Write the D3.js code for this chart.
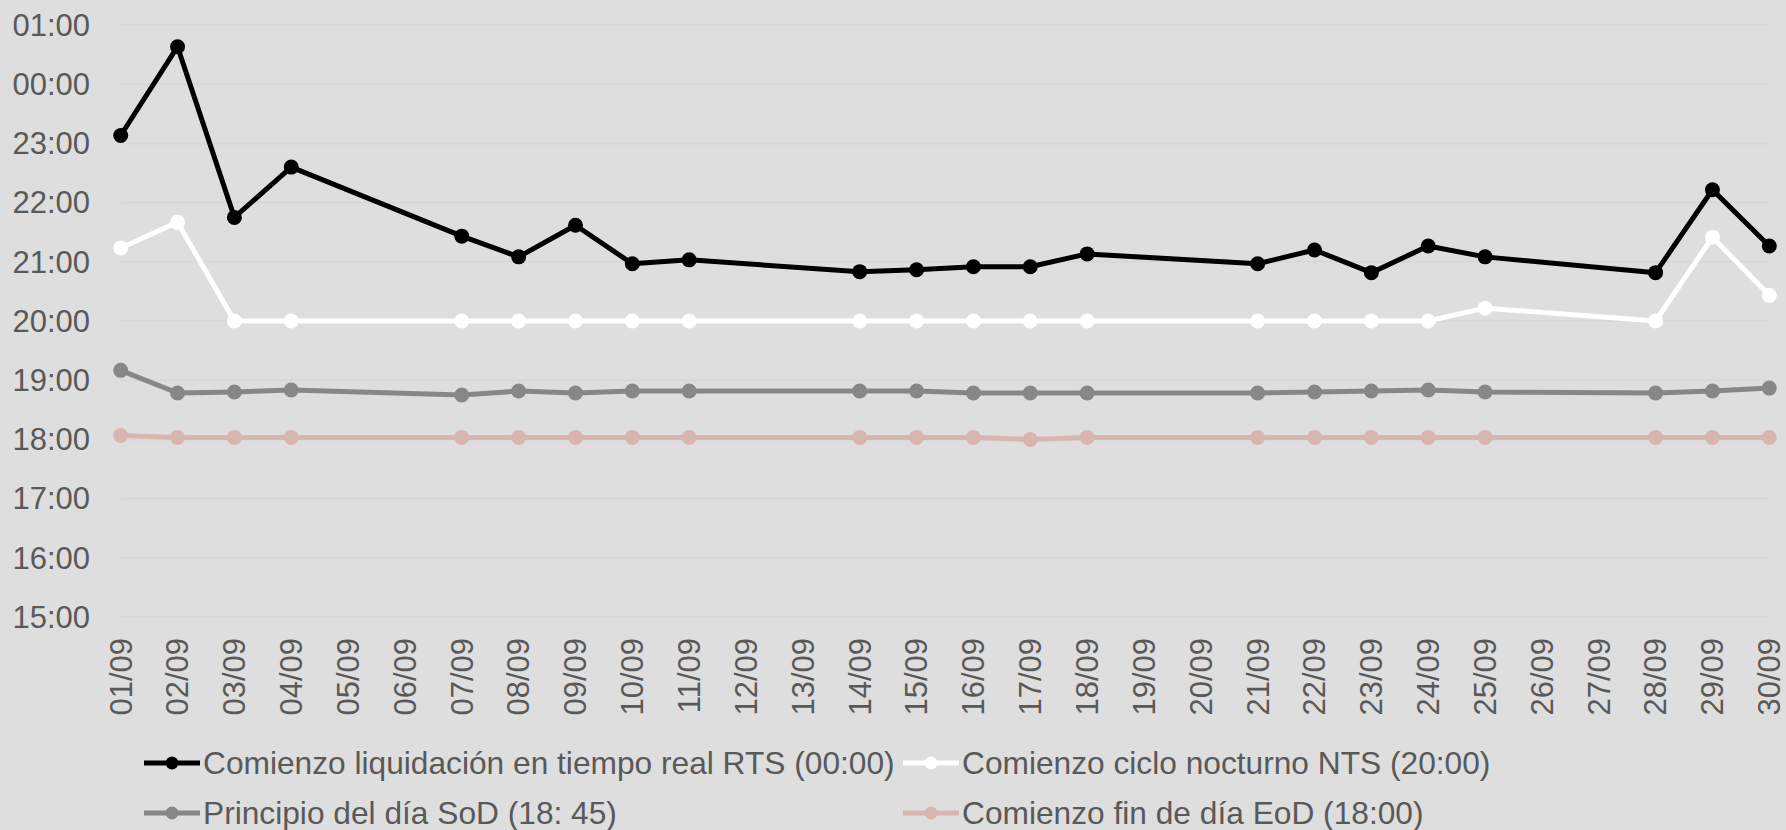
<!DOCTYPE html>
<html>
<head>
<meta charset="utf-8">
<script src="https://cdn.jsdelivr.net/npm/d3@7"></script>
<style>
  html, body { margin: 0; padding: 0; background: #dedede; }
  svg { display: block; font-family: 'Liberation Sans', Arial, Helvetica, sans-serif; }
  .tick-label { fill: #595959; font-size: 31px; }
  .legend-label { fill: #595959; font-size: 31.7px; }
</style>
</head>
<body>
<svg id="chart" width="1786" height="830"></svg>
<script>
// categories: days of September
const days = d3.range(1, 31).map((d) => `${String(d).padStart(2, '0')}/09`);

// times, "HH:MM"; values before noon belong to the next day
const rts = ['23:08', '00:38', '21:45', '22:36', null, null, '21:26', '21:05', '21:37', '20:58',
  '21:02', null, null, '20:50', '20:52', '20:55', '20:55', '21:08', null, null,
  '20:58', '21:12', '20:49', '21:16', '21:05', null, null, '20:49', '22:13', '21:16'];
const nts = ['21:14', '21:40', '20:00', '20:00', null, null, '20:00', '20:00', '20:00', '20:00',
  '20:00', null, null, '20:00', '20:00', '20:00', '20:00', '20:00', null, null,
  '20:00', '20:00', '20:00', '20:00', '20:13', null, null, '20:00', '21:25', '20:26'];
const sod = ['19:10', '18:47', '18:48', '18:50', null, null, '18:45', '18:49', '18:47', '18:49',
  '18:49', null, null, '18:49', '18:49', '18:47', '18:47', '18:47', null, null,
  '18:47', '18:48', '18:49', '18:50', '18:48', null, null, '18:47', '18:49', '18:52'];
const eod = ['18:04', '18:02', '18:02', '18:02', null, null, '18:02', '18:02', '18:02', '18:02',
  '18:02', null, null, '18:02', '18:02', '18:02', '18:00', '18:02', null, null,
  '18:02', '18:02', '18:02', '18:02', '18:02', null, null, '18:02', '18:02', '18:02'];

const yTicks = d3.range(15, 26);

const series = [
  { name: 'Comienzo liquidación en tiempo real RTS (00:00)', values: rts, color: '#000000' },
  { name: 'Comienzo ciclo nocturno NTS (20:00)', values: nts, color: '#ffffff' },
  { name: 'Principio del día SoD (18: 45)', values: sod, color: '#878787' },
  { name: 'Comienzo fin de día EoD (18:00)', values: eod, color: '#d9b5b0' },
];

function toHours(s) {
  if (s == null) return null;
  const [h, m] = s.split(':').map(Number);
  const v = h + m / 60;
  return v < 12 ? v + 24 : v;
}

const svg = d3.select('#chart');

const x = d3.scalePoint().domain(days).range([120.7, 1769.3]);
const y = d3.scaleLinear().domain([15, 25]).range([617, 25]);

// gridlines
svg
  .append('g')
  .selectAll('line')
  .data(yTicks)
  .enter()
  .append('line')
  .attr('x1', x.range()[0])
  .attr('x2', x.range()[1])
  .attr('y1', (d) => y(d))
  .attr('y2', (d) => y(d))
  .attr('stroke', '#d8d8d8')
  .attr('stroke-width', 2);

// y labels
svg
  .append('g')
  .selectAll('text')
  .data(yTicks)
  .enter()
  .append('text')
  .attr('class', 'tick-label')
  .attr('x', 90)
  .attr('y', (d) => y(d))
  .attr('dy', '0.35em')
  .attr('text-anchor', 'end')
  .text((d) => `${String(d % 24).padStart(2, '0')}:00`);

// x labels, rotated
svg
  .append('g')
  .selectAll('text')
  .data(days)
  .enter()
  .append('text')
  .attr('class', 'tick-label')
  .attr('transform', (d) => `translate(${x(d)},638) rotate(-90)`)
  .attr('dy', '0.35em')
  .attr('text-anchor', 'end')
  .text((d) => d);

const line = d3
  .line()
  .x((d) => x(d.day))
  .y((d) => y(d.v));

series.forEach((s) => {
  const pts = s.values
    .map((v, i) => ({ day: days[i], v: toHours(v) }))
    .filter((p) => p.v !== null);

  const g = svg.append('g');
  g.append('path')
    .attr('d', line(pts))
    .attr('fill', 'none')
    .attr('stroke', s.color)
    .attr('stroke-width', 5)
    .attr('stroke-linejoin', 'round');

  g.selectAll('circle')
    .data(pts)
    .enter()
    .append('circle')
    .attr('cx', (d) => x(d.day))
    .attr('cy', (d) => y(d.v))
    .attr('r', 7.5)
    .attr('fill', s.color);
});

// legend, two columns
const legendPos = [
  { x: 144, y: 763 },
  { x: 903, y: 763 },
  { x: 144, y: 813 },
  { x: 903, y: 813 },
];

const legend = svg
  .append('g')
  .selectAll('g')
  .data(series)
  .enter()
  .append('g')
  .attr('transform', (d, i) => `translate(${legendPos[i].x},${legendPos[i].y})`);

legend
  .append('line')
  .attr('x1', 0)
  .attr('x2', 56)
  .attr('stroke', (d) => d.color)
  .attr('stroke-width', 5);

legend
  .append('circle')
  .attr('cx', 28)
  .attr('r', 6.5)
  .attr('fill', (d) => d.color);

legend
  .append('text')
  .attr('class', 'legend-label')
  .attr('x', 59)
  .attr('dy', '0.35em')
  .text((d) => d.name);
</script>
</body>
</html>
